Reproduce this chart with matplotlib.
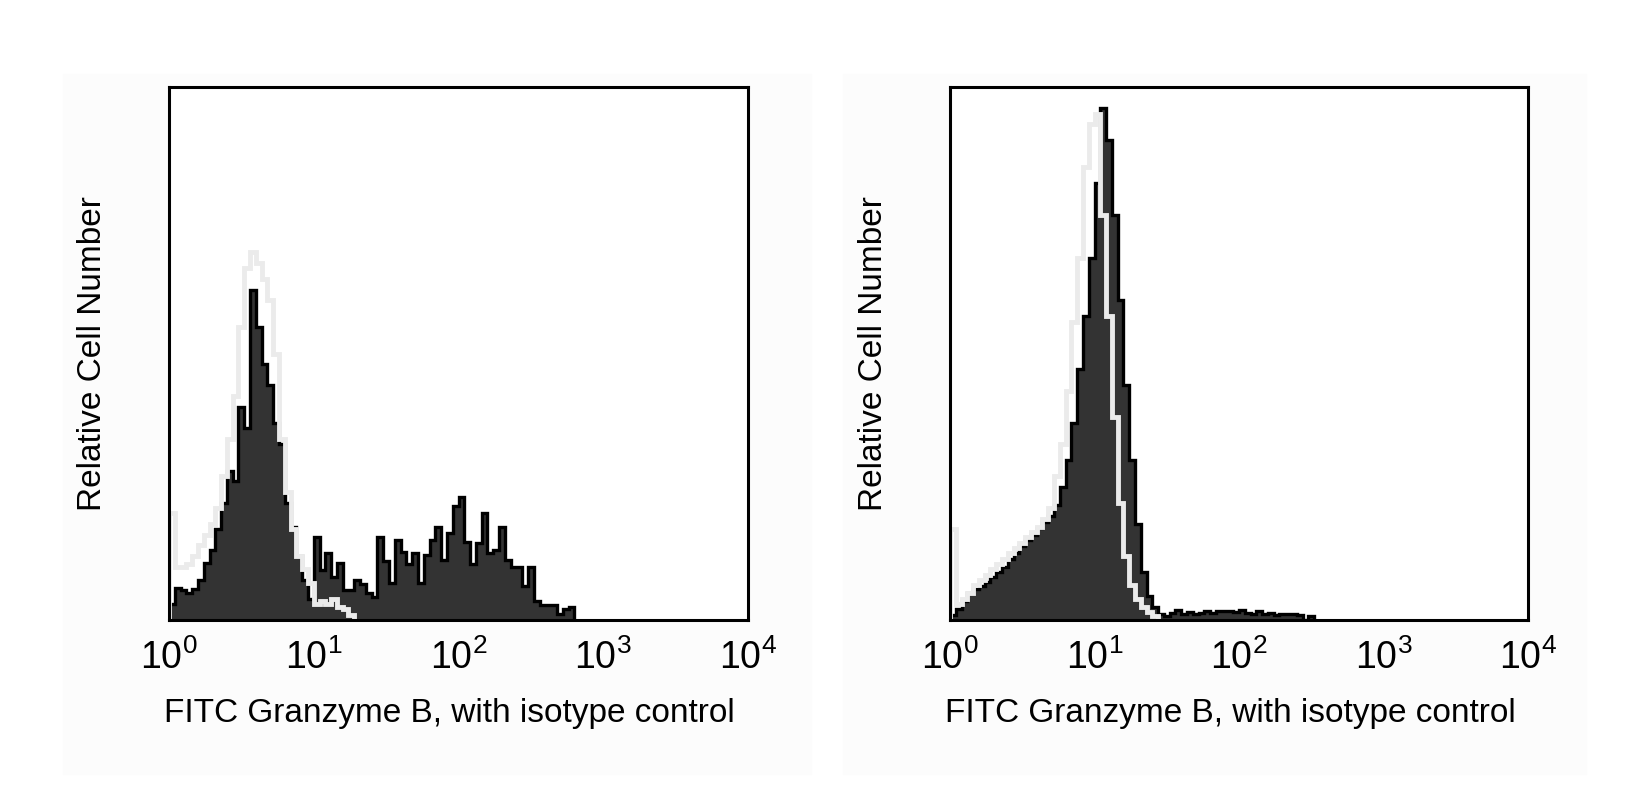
import numpy as np
import matplotlib
matplotlib.use("Agg")
import matplotlib.pyplot as plt
from matplotlib.patches import Rectangle

plt.rcParams['font.family'] = ['Liberation Sans', 'DejaVu Sans']
plt.rcParams['mathtext.fontset'] = 'custom'
plt.rcParams['mathtext.rm'] = 'Liberation Sans'
plt.rcParams['mathtext.it'] = 'Liberation Sans'
plt.rcParams['mathtext.bf'] = 'Liberation Sans'

# histogram channels, each 0.04 decade wide starting at 10^0
bin_step = 0.04

left_sample = [0.03, 0.06, 0.056, 0.05, 0.058, 0.075, 0.107, 0.131, 0.17, 0.22,
               0.28, 0.26, 0.40, 0.36, 0.62, 0.55, 0.48, 0.44, 0.37, 0.33,
               0.22, 0.175, 0.12, 0.075, 0.04, 0.155, 0.094, 0.125, 0.08, 0.107,
               0.056, 0.056, 0.075, 0.068, 0.05, 0.044, 0.156, 0.11, 0.07, 0.15,
               0.128, 0.106, 0.125, 0.069, 0.122, 0.15, 0.175, 0.113, 0.163, 0.213,
               0.231, 0.147, 0.106, 0.144, 0.20, 0.125, 0.131, 0.175, 0.113, 0.10,
               0.10, 0.063, 0.10, 0.035, 0.028, 0.028, 0.028, 0.012, 0.02, 0.025]
left_isotype = [0.20, 0.10, 0.10, 0.105, 0.12, 0.14, 0.16, 0.18, 0.21, 0.27,
                0.34, 0.42, 0.55, 0.66, 0.69, 0.67, 0.64, 0.60, 0.50, 0.34,
                0.24, 0.17, 0.12, 0.095, 0.07, 0.03, 0.035, 0.03, 0.04, 0.025,
                0.02, 0.01]

right_sample = [0.01, 0.02, 0.035, 0.05, 0.058, 0.063, 0.072, 0.08, 0.09, 0.10,
                0.115, 0.125, 0.138, 0.15, 0.16, 0.172, 0.183, 0.195, 0.215, 0.25,
                0.30, 0.37, 0.47, 0.57, 0.68, 0.82, 0.96, 0.90, 0.76, 0.60,
                0.44, 0.30, 0.18, 0.09, 0.045, 0.025, 0.012, 0.008, 0.014, 0.018,
                0.012, 0.015, 0.011, 0.014, 0.016, 0.013, 0.016, 0.017, 0.016, 0.015,
                0.019, 0.014, 0.012, 0.016, 0.011, 0.013, 0.010, 0.012, 0.011, 0.012,
                0.010, 0.0, 0.008]
right_isotype = [0.17, 0.03, 0.04, 0.05, 0.065, 0.075, 0.085, 0.095, 0.105, 0.115,
                 0.125, 0.135, 0.145, 0.155, 0.165, 0.175, 0.19, 0.21, 0.27, 0.33,
                 0.43, 0.56, 0.68, 0.85, 0.93, 0.95, 0.76, 0.57, 0.38, 0.22,
                 0.12, 0.065, 0.04, 0.025, 0.015, 0.008]

tick_values = [1, 10, 100, 1000, 10000]
tick_labels = [r"$10^{0}$", r"$10^{1}$", r"$10^{2}$", r"$10^{3}$", r"$10^{4}$"]
x_label = "FITC Granzyme B, with isotype control"
y_label = "Relative Cell Number"


def edges_for(values):
    return 10 ** (np.arange(len(values) + 1) * bin_step)


def draw_panel(ax, sample, isotype):
    ax.stairs(sample, edges_for(sample), fill=True, color='#333333', lw=0)
    ax.stairs(sample, edges_for(sample), color='black', lw=2.4)
    ax.stairs(isotype, edges_for(isotype), color='#ebebeb', lw=3.5)

    ax.set_xscale('log')
    ax.set_xlim(1, 10000)
    ax.set_ylim(0, 1)
    ax.set_xticks(tick_values)
    ax.set_xticklabels(tick_labels)
    ax.minorticks_off()
    ax.set_yticks([])
    ax.tick_params(axis='x', length=0, pad=14, labelsize=27)
    for sp in ax.spines.values():
        sp.set_linewidth(2.2)
    ax.set_xlabel(x_label, fontsize=24, labelpad=15)
    ax.xaxis.label.set_x(0.485)
    ax.set_ylabel(y_label, fontsize=24, labelpad=44)


fig = plt.figure(figsize=(16.52, 7.97), dpi=100)

# faint panel backgrounds behind each plot
for x0, w in [(63, 748), (843, 743)]:
    fig.add_artist(Rectangle((x0 / 1652, 1 - 774 / 797), w / 1652, 700 / 797,
                             transform=fig.transFigure, color='#fcfcfc', zorder=-5))

ax1 = fig.add_axes([169 / 1652, 1 - 620 / 797, 579 / 1652, 533 / 797])
ax2 = fig.add_axes([950 / 1652, 1 - 620 / 797, 578 / 1652, 533 / 797])

draw_panel(ax1, left_sample, left_isotype)
draw_panel(ax2, right_sample, right_isotype)

fig.savefig("out.png", dpi=100)
